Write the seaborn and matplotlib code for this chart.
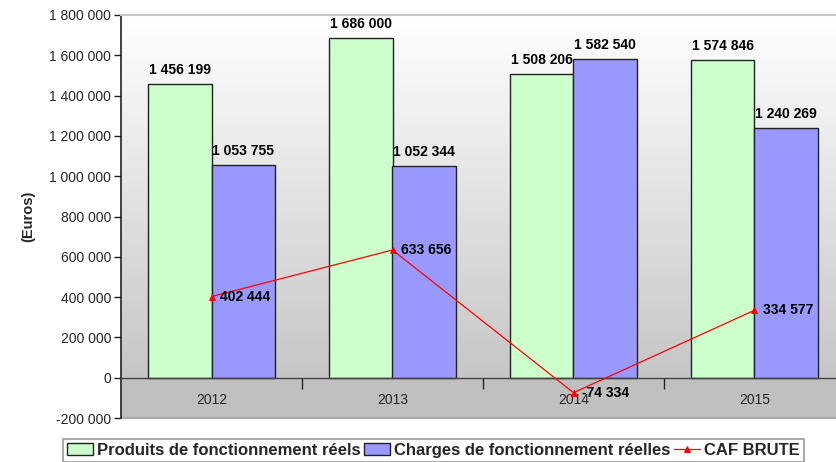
import numpy as np
import pandas as pd
import matplotlib
matplotlib.use("Agg")
import matplotlib.pyplot as plt
from matplotlib.colors import LinearSegmentedColormap
from matplotlib.ticker import FuncFormatter, FixedLocator
import seaborn as sns

years = ["2012", "2013", "2014", "2015"]
produits = [1456199, 1686000, 1508206, 1574846]
charges = [1053755, 1052344, 1582540, 1240269]
caf = [402444, 633656, -74334, 334577]
series_names = ["Produits de fonctionnement réels", "Charges de fonctionnement réelles"]
caf_name = "CAF BRUTE"
y_ticks = list(range(-200000, 1800001, 200000))

sns.set_theme(style="white")
plt.rcParams["font.family"] = ["Liberation Sans", "DejaVu Sans"]

df = pd.DataFrame({
    "annee": years * 2,
    "valeur": produits + charges,
    "serie": [series_names[0]] * 4 + [series_names[1]] * 4,
})


def fr(v):
    s = f"{abs(int(v)):,}".replace(",", " ")
    return ("-" if v < 0 else "") + s


fig = plt.figure(figsize=(8.36, 4.62), dpi=100)
ax = fig.add_axes([121 / 836, 1 - 418 / 462, 724 / 836, 403 / 462])

# background: vertical gradient on the walls, flat grey floor below zero
grad = np.linspace(1, 0, 256).reshape(-1, 1)
cmap = LinearSegmentedColormap.from_list("wall", ["#c6c6c6", "#ffffff"])
ax.imshow(grad, extent=(-0.5, 3.5, 0, 1800000), aspect="auto", cmap=cmap,
          zorder=0, interpolation="bilinear")
ax.axhspan(-200000, 0, color="#c0c0c0", zorder=0, lw=0)

sns.barplot(data=df, x="annee", y="valeur", hue="serie", order=years,
            hue_order=series_names, palette=["#ccffcc", "#9999ff"],
            width=0.7, gap=0, edgecolor="#222222", linewidth=1.0,
            saturation=1, ax=ax, zorder=2)

sns.pointplot(x=years, y=caf, order=years, color="red", marker="^",
              markersize=5, linewidth=0.9, label=caf_name, ax=ax, zorder=4)

# value labels on the bars
for cont in ax.containers:
    for rect, val in zip(cont, cont.datavalues):
        ax.annotate(fr(val), (rect.get_x() + rect.get_width() / 2, rect.get_height()),
                    xytext=(0, 5), textcoords="offset points", ha="center",
                    va="bottom", fontsize=10, fontweight="bold", color="black",
                    zorder=5)

# value labels on the CAF line
for i, v in enumerate(caf):
    ax.annotate(fr(v), (i, v), xytext=(6, 0), textcoords="offset points",
                ha="left", va="center", fontsize=10, fontweight="bold",
                color="black", zorder=5)

ax.set_xlim(-0.5, 3.5)
ax.set_ylim(-200000, 1800000)
ax.set_yticks(y_ticks)
ax.yaxis.set_major_formatter(FuncFormatter(lambda v, p: fr(v)))
ax.tick_params(axis="y", direction="out", length=5, width=1, color="#222222",
               labelsize=10, pad=2, left=True)

# category axis sits on the zero line
ax.spines["bottom"].set_position(("data", 0))
ax.spines["bottom"].set_color("#444444")
ax.spines["bottom"].set_linewidth(1)
ax.set_xticks(range(len(years)))
ax.set_xticklabels(years)
ax.xaxis.set_minor_locator(FixedLocator([0.5, 1.5, 2.5]))
ax.tick_params(axis="x", which="major", length=0, labelsize=10, pad=11)
ax.tick_params(axis="x", which="minor", direction="out", length=8, width=1,
               color="#222222", bottom=True)
ax.spines["left"].set_color("#222222")
ax.spines["left"].set_linewidth(1.2)
ax.spines["right"].set_visible(False)
ax.spines["top"].set_color("#c8c8c8")
ax.spines["top"].set_linewidth(1.5)
ax.axhline(-200000, color="#a8a8a8", lw=1.5, zorder=1, clip_on=False)

ax.set_xlabel("")
ax.set_ylabel("(Euros)", fontsize=10.5, fontweight="bold", labelpad=10)

handles, labels = ax.get_legend_handles_labels()
if ax.get_legend() is not None:
    ax.get_legend().remove()
leg = fig.legend(handles, labels, loc="upper left",
                 bbox_to_anchor=(63 / 836, 1 - 439 / 462), ncol=3,
                 frameon=True, fancybox=False,
                 prop={"weight": "bold", "size": 12},
                 handlelength=1.55, handletextpad=0.25, columnspacing=0.2,
                 borderpad=0.25, borderaxespad=0)
leg.get_frame().set_edgecolor("#808080")
leg.get_frame().set_linewidth(1.2)

fig.savefig("out.png", dpi=100)
